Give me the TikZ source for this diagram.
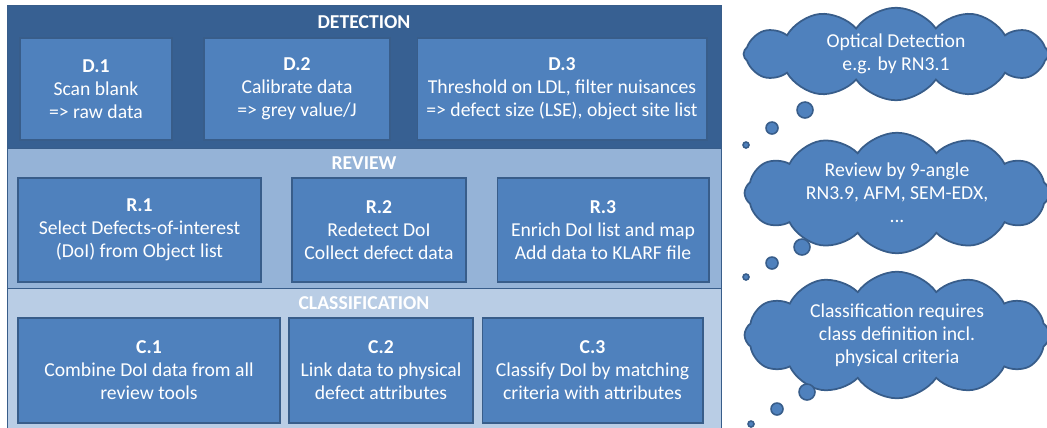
\documentclass[tikz,border=0pt]{standalone}
\usepackage{fontspec}
\setmainfont{Carlito}
\usetikzlibrary{shapes.symbols,positioning}

\definecolor{detblue}{HTML}{376092}
\definecolor{revblue}{HTML}{95B3D7}
\definecolor{clsblue}{HTML}{B9CDE5}
\definecolor{boxblue}{HTML}{4F81BD}
\definecolor{edgeblue}{HTML}{385D8A}
\newcommand{\boxfont}{\fontsize{11.2}{13.1}\selectfont}

\tikzset{
  stepbox/.style={draw=edgeblue, fill=boxblue, text=white, align=center,
    inner sep=0pt, font=\boxfont, line width=0.6pt},
  paneltitle/.style={text=white, font=\boxfont\bfseries},
  thought/.style={cloud, cloud puffs=12, cloud puff arc=110, aspect=3.4,
    draw=edgeblue, fill=boxblue, line width=1pt, text=white, align=center,
    font=\boxfont, inner sep=0pt},
  bubble/.style={circle, draw=edgeblue, fill=boxblue, line width=0.9pt, inner sep=0pt},
}

\begin{document}
\begin{tikzpicture}[x=0.02cm, y=-0.02cm]
\useasboundingbox (0,0) rectangle (1047,427);
\clip (0,0) rectangle (1047,427);
% Panels
\draw[edgeblue, fill=detblue] (7,5) rectangle (721,148); % Detection
\draw[edgeblue, fill=revblue] (7,148) rectangle (721,288); % Review
\draw[edgeblue, fill=clsblue] (7,288) rectangle (721,432); % Classification
\node[paneltitle] (dettitle) at (364,22) {DETECTION};
\node[paneltitle] (revtitle) at (364,163) {REVIEW};
\node[paneltitle] (clstitle) at (364,303) {CLASSIFICATION};
% Detection steps
\node[stepbox, minimum width=3.04cm, minimum height=2.04cm] (d1) at (96,89)
  {\textbf{D.1}\\Scan blank\\=> raw data};
\node[stepbox, minimum width=3.72cm, minimum height=2.04cm] (d2) at (297,89)
  {\textbf{D.2}\\Calibrate data\\=> grey value/J};
\node[stepbox, minimum width=5.8cm, minimum height=2.04cm] (d3) at (562,89)
  {\textbf{D.3}\\Threshold on LDL, filter nuisances\\=> defect size (LSE), object site list};
% Review steps
\node[stepbox, minimum width=4.86cm, minimum height=2.08cm] (r1) at (139.5,230)
  {\textbf{R.1}\\Select Defects-of-interest\\(DoI) from Object list};
\node[stepbox, minimum width=3.48cm, minimum height=2.08cm] (r2) at (379,230)
  {\textbf{R.2}\\Redetect DoI\\Collect defect data};
\node[stepbox, minimum width=4.24cm, minimum height=2.08cm] (r3) at (603,230)
  {\textbf{R.3}\\Enrich DoI list and map\\Add data to KLARF file};
% Classification steps
\node[stepbox, minimum width=5.24cm, minimum height=2.1cm] (c1) at (149,370.5)
  {\textbf{C.1}\\Combine DoI data from all\\review tools};
\node[stepbox, minimum width=3.68cm, minimum height=2.1cm] (c2) at (381,370.5)
  {\textbf{C.2}\\Link data to physical\\defect attributes};
\node[stepbox, minimum width=4.42cm, minimum height=2.1cm] (c3) at (592.5,370.5)
  {\textbf{C.3}\\Classify DoI by matching\\criteria with attributes};
% Thought clouds
\node[thought, minimum width=6.1cm, minimum height=1.85cm] (optcloud) at (896,54)
  {Optical Detection\\e.g. by RN3.1};
\node[thought, minimum width=6.1cm, minimum height=1.86cm] (revcloud) at (897,193)
  {Review by 9-angle\\RN3.9, AFM, SEM-EDX,\\...};
\node[thought, minimum width=6.1cm, minimum height=1.88cm] (clscloud) at (897,335)
  {Classification requires\\class definition incl.\\physical criteria};
% Bubbles
\node[bubble, minimum size=0.32cm] (b1a) at (805,110) {};
\node[bubble, minimum size=0.24cm] (b1b) at (772,128) {};
\node[bubble, minimum size=0.12cm] (b1c) at (746,145) {};
\node[bubble, minimum size=0.32cm] (b2a) at (802,247) {};
\node[bubble, minimum size=0.24cm] (b2b) at (772,263) {};
\node[bubble, minimum size=0.12cm] (b2c) at (746,277) {};
\node[bubble, minimum size=0.32cm] (b3a) at (807,392) {};
\node[bubble, minimum size=0.24cm] (b3b) at (777,409) {};
\node[bubble, minimum size=0.12cm] (b3c) at (751,424) {};
\end{tikzpicture}
\end{document}
